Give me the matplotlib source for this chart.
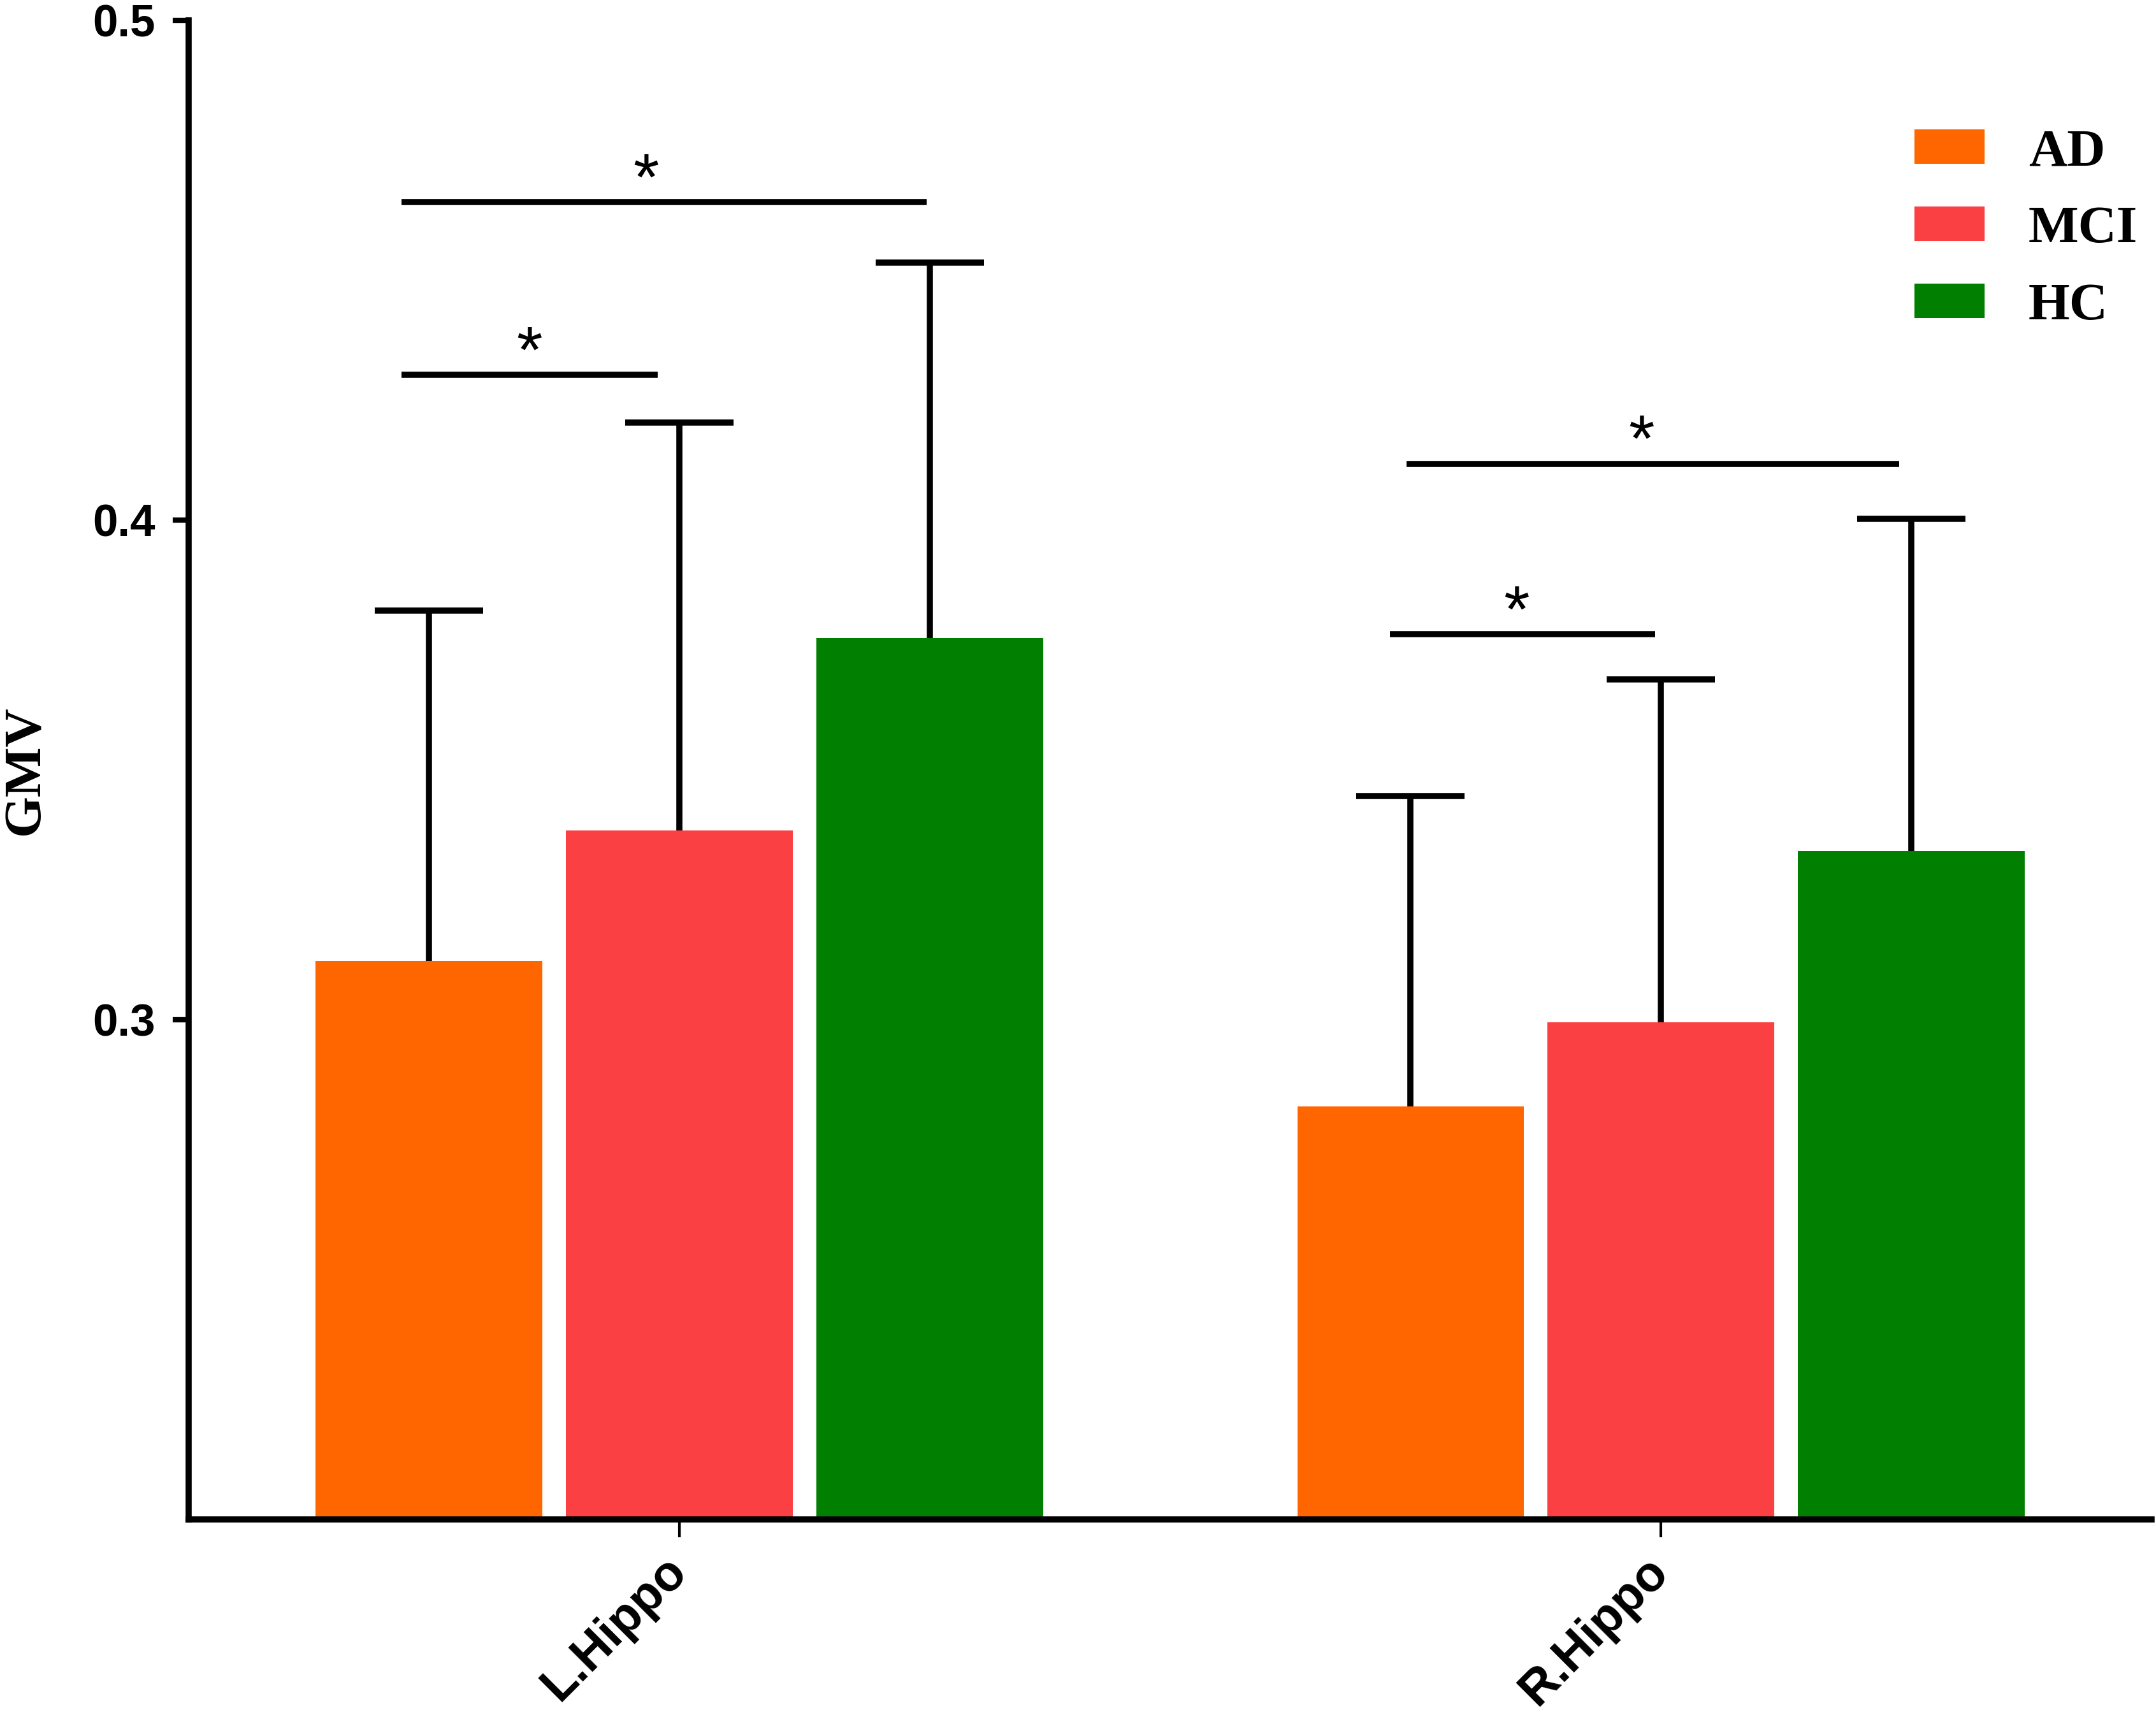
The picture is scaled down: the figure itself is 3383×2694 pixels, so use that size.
import matplotlib
matplotlib.use("Agg")
import matplotlib.pyplot as plt
from matplotlib.patches import Patch
import numpy as np

regions = ["L.Hippo", "R.Hippo"]
groups = ["AD", "MCI", "HC"]
colors = ["#FF6600", "#FA4043", "#007F00"]
means = {
    "AD":  [0.3118, 0.2827],
    "MCI": [0.3379, 0.2995],
    "HC":  [0.3764, 0.3338],
}
sds = {
    "AD":  [0.0701, 0.0621],
    "MCI": [0.0816, 0.0686],
    "HC":  [0.0752, 0.0665],
}
# significance brackets: (x_start, x_end, y, star_x)
sig_lines = [
    (-0.283, -0.022, 0.4291, -0.153),
    (-0.283, 0.252, 0.4637, -0.034),
    (0.724, 0.994, 0.3772, 0.853),
    (0.741, 1.243, 0.4113, 0.980),
]
yticks = [0.3, 0.4, 0.5]

sans = ["Liberation Sans", "DejaVu Sans"]
serif = ["Liberation Serif", "DejaVu Serif"]

fig = plt.figure(figsize=(3383 / 300, 2694 / 300), dpi=300)
ax = fig.add_axes([0.0875, 0.115, 0.9105, 0.873])

x = np.arange(len(regions))
offsets = [-0.255, 0.0, 0.255]
width = 0.231
lw = 2.3

for g, c, off in zip(groups, colors, offsets):
    pos = x + off
    ax.bar(pos, means[g], width=width, color=c, bottom=0, zorder=2)
    eb = ax.errorbar(pos, means[g], yerr=[np.zeros(len(regions)), sds[g]],
                     fmt="none", ecolor="black", elinewidth=lw, capsize=20.5,
                     capthick=lw, zorder=3)
    for cl in eb[1]:
        if np.allclose(cl.get_ydata(), means[g]):
            cl.set_visible(False)

for x0, x1, y, sx in sig_lines:
    ax.plot([x0, x1], [y, y], color="black", lw=lw, solid_capstyle="butt", zorder=3)
    ax.text(sx, y + 0.0005, "*", ha="center", va="baseline", fontsize=25,
            family=sans, color="black")

ax.set_xlim(-0.5, 1.5)
ax.set_ylim(0.2, 0.5)
ax.set_yticks(yticks)
ax.set_yticklabels(["0.3", "0.4", "0.5"], family=sans, fontweight="bold", fontsize=17)
ax.set_xticks(x)
ax.set_xticklabels(regions, rotation=45, ha="right", va="center",
                   rotation_mode="anchor", family=sans, fontweight="bold", fontsize=18.5)

for s in ["top", "right"]:
    ax.spines[s].set_visible(False)
for s in ["left", "bottom"]:
    ax.spines[s].set_linewidth(2.3)
ax.tick_params(axis="y", length=6, width=2.0, pad=6.5)
ax.tick_params(axis="x", length=6.7, width=1.0, pad=10)

ax.set_ylabel("GMV", family=serif, fontweight="bold", fontsize=20, labelpad=16)

handles = [Patch(facecolor=c, edgecolor="none", label=g) for g, c in zip(groups, colors)]
leg = ax.legend(handles=handles, loc="upper left", bbox_to_anchor=(0.879, 0.9276),
                frameon=False, borderaxespad=0, borderpad=0,
                handlelength=1.32, handleheight=0.62, handletextpad=0.83,
                labelspacing=0.55,
                prop={"family": serif, "weight": "bold", "size": 20})

fig.savefig("out.png", dpi=300)
